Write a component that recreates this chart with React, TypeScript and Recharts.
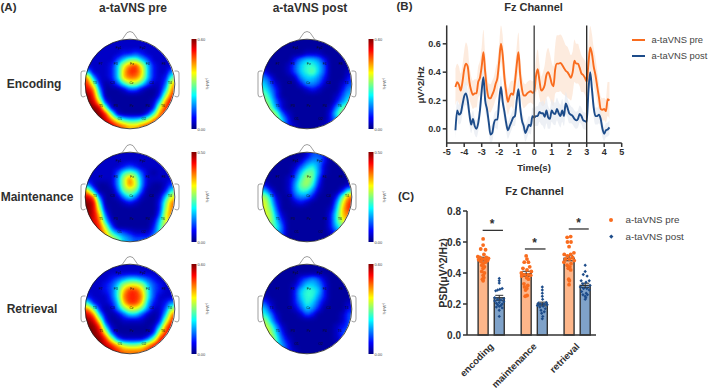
import React from 'react';
import { ComposedChart, ScatterChart, Scatter, Line, Area, Bar, ErrorBar, XAxis, YAxis, ReferenceLine } from 'recharts';

const FONT = '"Liberation Sans", Arial, sans-serif';
const INK = '#2f2f2f';
const PRE = '#f96c1e';
const POST = '#1d4c8a';

// ---------- Panel B, values ----------
const times = [-4.5,-4.4,-4.3,-4.2,-4.1,-4,-3.9,-3.8,-3.7,-3.6,-3.5,-3.4,-3.3,-3.2,-3.1,-3,-2.9,-2.8,-2.7,-2.6,-2.5,-2.4,-2.3,-2.2,-2.1,-2,-1.9,-1.8,-1.7,-1.6,-1.5,-1.4,-1.3,-1.2,-1.1,-1,-0.9,-0.8,-0.7,-0.6,-0.5,-0.4,-0.3,-0.2,-0.1,0,0.1,0.2,0.3,0.4,0.5,0.6,0.7,0.8,0.9,1,1.1,1.2,1.3,1.4,1.5,1.6,1.7,1.8,1.9,2,2.1,2.2,2.3,2.4,2.5,2.6,2.7,2.8,2.9,3,3.1,3.2,3.3,3.4,3.5,3.6,3.7,3.8,3.9,4,4.1,4.2,4.3];
const preSeries = [.295,.33,.31,.27,.33,.42,.46,.44,.33,.27,.24,.25,.25,.33,.36,.44,.54,.40,.28,.22,.215,.24,.27,.32,.36,.48,.60,.52,.36,.26,.19,.23,.25,.24,.33,.45,.54,.38,.28,.235,.235,.25,.26,.265,.255,.26,.37,.42,.34,.27,.28,.31,.38,.40,.37,.32,.30,.42,.46,.46,.465,.45,.43,.41,.40,.38,.36,.40,.48,.46,.46,.43,.39,.38,.36,.335,.46,.575,.53,.44,.38,.30,.22,.14,.135,.14,.125,.21,.20];
const postSeries = [-.01,.13,.10,.11,.17,.23,.25,.20,.10,.03,.07,.02,0,.04,.13,.27,.365,.20,.14,.05,-.04,-.03,.04,.065,.065,.20,.295,.19,.12,.04,-.01,.02,.05,.08,.09,.20,.28,.15,.06,.02,-.03,0,.03,.02,.09,.08,.09,.09,.12,.11,.11,.085,.13,.08,.07,.13,.11,.105,.14,.11,.09,.13,.09,.18,.15,.11,.10,.09,.07,.06,.07,.105,.09,.06,.055,.05,.27,.40,.28,.15,.09,.09,.10,.07,0,-.035,-.01,-.005,.01];
const preError = [.13,.13,.13,.12,.12,.13,.15,.14,.12,.1,.1,.1,.1,.11,.12,.14,.16,.14,.11,.1,.1,.1,.1,.11,.12,.12,.13,.14,.11,.1,.09,.09,.09,.1,.11,.13,.14,.12,.1,.09,.08,.08,.08,.08,.08,.09,.12,.14,.12,.1,.12,.14,.16,.17,.16,.15,.14,.17,.2,.2,.2,.2,.19,.18,.18,.17,.16,.15,.15,.14,.14,.13,.13,.12,.12,.12,.13,.15,.14,.13,.12,.11,.1,.09,.08,.08,.08,.12,.13];
const postError = [.06,.07,.07,.07,.07,.08,.08,.07,.07,.06,.06,.06,.06,.06,.07,.08,.09,.08,.07,.06,.06,.06,.06,.06,.07,.08,.08,.07,.07,.06,.06,.06,.06,.06,.07,.08,.08,.07,.06,.06,.06,.06,.06,.06,.06,.06,.07,.07,.07,.08,.09,.09,.09,.08,.07,.08,.08,.08,.08,.08,.08,.08,.07,.08,.07,.07,.06,.06,.06,.06,.06,.06,.06,.06,.06,.06,.08,.09,.08,.07,.06,.06,.06,.06,.06,.05,.05,.05,.05];
const timeTicks = [-5,-4,-3,-2,-1,0,1,2,3,4,5];
const lineTicks = [0,0.2,0.4,0.6];

// ---------- Panel C ----------
const categories = ['encoding','maintenance','retrieval'];
const categoryTicks = [1.5,4.17,6.83];
const barPositions = [1,2,3.67,4.67,6.33,7.33];
const barMeans = [.49,.24,.395,.20,.495,.32];
const barErrors = [.012,.016,.016,.012,.016,.014];
const psdTicks = [0,0.2,0.4,0.6,0.8];

const encPreVals = [.62,.58,.555,.55,.52,.505,.50,.50,.495,.49,.49,.485,.48,.475,.47,.46,.45,.44,.43,.41,.40,.385,.37,.36,.35];
const encPreJit = [0,0,-.15,.15,.05,-.33,-.2,.2,.33,-.05,.1,-.28,.28,-.14,.14,0,-.08,.08,0,-.08,.08,0,.04,-.04,0];
const encPostVals = [.365,.35,.335,.30,.295,.29,.285,.24,.235,.23,.225,.22,.215,.21,.205,.20,.195,.19,.185,.18,.175,.16,.12];
const encPostJit = [0,0,0,.18,.04,-.1,-.22,-.28,.28,-.1,.1,-.28,.28,0,-.18,.18,-.1,.1,0,-.18,.18,0,0];
const mainPreVals = [.51,.49,.47,.47,.44,.43,.42,.41,.40,.39,.39,.385,.38,.37,.36,.33,.32,.31,.30,.29,.255,.25];
const mainPreJit = [0,.05,-.12,.14,.22,-.2,.05,.32,-.3,-.12,.12,.28,-.28,.03,.14,-.14,.1,-.1,.04,-.04,.06,-.06];
const mainPostVals = [.31,.29,.27,.25,.23,.21,.205,.20,.20,.195,.19,.185,.18,.17,.16,.15,.14,.12,.105];
const mainPostJit = [0,0,0,0,.02,.25,-.25,.1,-.12,.3,-.3,.05,-.15,.18,-.08,.12,-.04,.03,0];
const retPreVals = [.635,.63,.60,.60,.57,.53,.52,.52,.51,.50,.49,.49,.48,.47,.46,.45,.44,.43,.42,.36,.35,.325];
const retPreJit = [.1,-.12,-.1,.12,0,.3,-.3,.1,-.1,.22,-.22,.02,.32,-.32,.12,-.12,.05,-.05,.1,-.02,.02,0];
const retPostVals = [.45,.41,.39,.38,.35,.35,.34,.33,.32,.31,.30,.30,.29,.28,.27,.26,.26,.25,.24,.23];
const retPostJit = [0,0,-.12,.12,-.25,.25,.05,-.15,.3,-.3,.1,-.1,.25,-.22,.06,-.14,.14,0,.04,0];

const sigLeft = [.97,3.59,6.31];
const sigRight = [2.23,4.87,7.55];
const sigHeights = [.675,.555,.684];

// ---------- Panel A: scalp maps, one hex digit per cell ----------
const encodingPre = ['222222222222222','222222222222222','222222334322222','222224688642222','222236acda63222','622236bddb63225','c52236bcca63238','d9312479974224b','ec511124421126c','fd711111111139d','fea3111111126ce','ffe821111113add','fffd82111137cdd','fffec976679cddd','ffffedcbbcddddd'];
const encodingPost = ['111111111111111','111111111111111','111111122211111','111113566531111','111124677641111','311124678641112','531112566531113','642111355421124','753111123211135','863111111111246','974211111111357','a85211111112588','aa8421111113799','aa9631111113577','aa9632111123455'];
const maintenancePre = ['222222222222222','222222222222222','222222343222222','222224787421222','2222259c9522222','5211259ca521124','b51114898411137','ec411257521126a','fe711123211138c','fe921111111139c','feb4111111114ac','eec6211111126ab','eed9411111137aa','eedb75432224799','eedca8654445788'];
const maintenancePost = ['111111124431111','111111245531111','111112467521111','111113688521111','111124798411111','311125897311112','631125775211137','96211455311138c','a731123211115ad','a841111111126bd','a952111111137bc','9963111111137ab','987411111113688','876411111112455','765311111111233'];
const retrievalPre = ['222222222222222','222222222222222','222234566543222','2223469aa964322','222347bddb74322','322247cddc74222','732236bddb63235','c831258aa852249','ec621246642126c','fea31122221139d','ffd6211111126ce','ffea41111113ade','fffd94222248dee','fffedb9889bdeee','ffffedccccdeeee'];
const retrievalPost = ['111111111111111','111111111111111','111111345421111','111112466531111','111113677631111','211113677531111','421113576421112','631112465311113','752111243111124','963111111111124','a85211111111234','b96311111111244','aa7421111111233','aa7531111111122','997532111111111'];

const mapCentersX = [129.5,306.7];
const mapCentersY = [84,197,309];
const rowNames = ['Encoding','Maintenance','Retrieval'];
const scaleMax = ['0.60','0.50','0.60'];
const mapGrids = [[encodingPre,encodingPost],[maintenancePre,maintenancePost],[retrievalPre,retrievalPost]];

const jetR = '0 0 0 0 0 0 0 .19 .44 .69 .94 1 1 1 .82 .5';
const jetG = '0 0 0 .06 .31 .56 .82 1 1 1 1 .75 .44 .125 0 0';
const jetB = '.52 .62 .78 .97 1 1 1 .82 .56 .31 .06 0 0 0 0 0';
const jetStops = ['#800000','#ff0000','#ff8000','#ffff00','#80ff80','#00ffff','#0080ff','#0000ff','#000080'];

const electrodeNames = ['Fp1','Fp2','F7','F3','Fz','F4','F8','T3','C3','Cz','C4','T4','T5','P3','Pz','P4','T6','O1','O2'];
const electrodeX = [-11,13,-29,-14,2,18,34,-35,-17,1.5,22,40,-29,-14,2,18,33,-10,14];
const electrodeY = [-36,-36,-20,-20,-20,-20,-20,-1,-1,-1,-1,-1,22,22,22,22,22,35,35];

const pointsOf = (xs: number, vals: number[], jit: number[]) => vals.map((v, i) => ({ x: xs + jit[i], y: v }));
const prePoints = [...pointsOf(1, encPreVals, encPreJit), ...pointsOf(3.67, mainPreVals, mainPreJit), ...pointsOf(6.33, retPreVals, retPreJit)];
const postPoints = [...pointsOf(2, encPostVals, encPostJit), ...pointsOf(4.67, mainPostVals, mainPostJit), ...pointsOf(7.33, retPostVals, retPostJit)];
const lineData = times.map((t, i) => ({
  t, pre: preSeries[i], post: postSeries[i],
  preBand: [preSeries[i] - preError[i], preSeries[i] + preError[i]],
  postBand: [postSeries[i] - postError[i], postSeries[i] + postError[i]],
}));
const barData = barPositions.map((x, i) => ({ x, y: barMeans[i], err: barErrors[i], fill: i % 2 ? '#7fa2c9' : '#fdb68a' }));

const Txt = ({ x, y, size, bold, rotate, color, children }: any) => (
  <div style={{ position: 'absolute', left: x, top: y, transform: `translate(-50%,-50%) rotate(${rotate || 0}deg)`, whiteSpace: 'nowrap', fontSize: size, fontWeight: bold ? 700 : 400, fontFamily: FONT, color: color || INK, lineHeight: 1 }}>{children}</div>
);

const TopoMap = ({ grid, cx, cy, id }: any) => {
  const cells: any[] = [];
  grid.forEach((row: string, r: number) => row.split('').forEach((ch, c) => {
    const g = Math.round(parseInt(ch, 16) * 17);
    cells.push({ x: c + 0.5, y: r + 0.5, gray: `rgb(${g},${g},${g})` });
  }));
  return (
    <>
      <div style={{ position: 'absolute', left: cx - 45, top: cy - 45, width: 90, height: 90, filter: 'url(#jetBlur)', clipPath: 'circle(44.6px at 45px 45px)' }}>
        <ScatterChart width={90} height={90} margin={{ top: 0, right: 0, bottom: 0, left: 0 }}>
          <XAxis hide type="number" dataKey="x" domain={[0, 15]} />
          <YAxis hide type="number" dataKey="y" domain={[0, 15]} reversed />
          <Scatter data={cells} isAnimationActive={false} shape={(p: any) => <rect x={p.cx - 3.3} y={p.cy - 3.3} width={6.6} height={6.6} fill={p.payload.gray} />} />
        </ScatterChart>
      </div>
      <div style={{ position: 'absolute', left: cx - 60, top: cy - 60 }}>
        <ScatterChart width={150} height={120} margin={{ top: 0, right: 0, bottom: 0, left: 0 }}>
          <XAxis hide type="number" dataKey="x" domain={[-60, 90]} />
          <YAxis hide type="number" dataKey="y" domain={[-60, 60]} reversed />
          <defs>
            <linearGradient id={`bar${id}`} x1="0" y1="0" x2="0" y2="1">
              {jetStops.map((c, i) => <stop key={i} offset={i / (jetStops.length - 1)} stopColor={c} />)}
            </linearGradient>
          </defs>
          <circle cx={60} cy={60} r={44.8} fill="none" stroke="#222" strokeWidth={0.8} />
          <path d="M52 15.8 L57 8.6 Q60 6.4 63 8.6 L68 15.8" fill="none" stroke="#777" strokeWidth={0.7} />
          <path d="M15.5 47 L13 47 Q11 47 11 49 L11 70 Q11 73 13 73 L15.5 72" fill="none" stroke="#777" strokeWidth={0.7} />
          <path d="M104.5 47 L107 47 Q109 47 109 49 L109 70 Q109 73 107 73 L104.5 72" fill="none" stroke="#777" strokeWidth={0.7} />
          <rect x={121.5} y={15} width={5} height={90} fill={`url(#bar${id})`} />
          <text x={127.5} y={16.5} fontSize={4} fill="#444" fontFamily={FONT}>{scaleMax[Math.floor(id / 2)]}</text>
          <text x={127.5} y={106.5} fontSize={4} fill="#444" fontFamily={FONT}>0.00</text>
          <text x={135.5} y={60} fontSize={3.6} fill="#444" fontFamily={FONT} textAnchor="middle" transform="rotate(90 135.5 60)">μV²/Hz</text>
          <Scatter data={electrodeNames.map((n, i) => ({ x: electrodeX[i], y: electrodeY[i], n }))} isAnimationActive={false}
            shape={(p: any) => <text x={p.cx} y={p.cy + 1} fontSize={3.4} fill="#111" textAnchor="middle" fontFamily={FONT}>{p.payload.n}</text>} />
        </ScatterChart>
      </div>
    </>
  );
};

const LineLegend = ({ y, color, label }: any) => (
  <>
    <div style={{ position: 'absolute', left: 632, top: y - 1, width: 13, height: 2, background: color }} />
    <div style={{ position: 'absolute', left: 651.5, top: y - 5, fontSize: 9.4, lineHeight: '10px', color: '#444', fontFamily: FONT, whiteSpace: 'nowrap' }}>{label}</div>
  </>
);

const CategoryTick = ({ x, y, payload }: any) => {
  const i = categoryTicks.indexOf(payload.value);
  return <text x={x + 3} y={y + 4} transform={`rotate(-45 ${x + 3} ${y + 4})`} textAnchor="end" fontSize={9.6} fontWeight={700} fill={INK} fontFamily={FONT}>{categories[i]}</text>;
};

const BarShape = (p: any) => {
  const mid = p.x + (p.width || 0) / 2;
  return <rect x={mid - 5} y={p.y} width={10} height={p.height} fill={p.payload.fill} stroke="#333" strokeWidth={1.4} />;
};

const axisTick = { fontSize: 9, fontWeight: 700, fill: INK, fontFamily: FONT };
const axisLine = { stroke: '#333', strokeWidth: 1.5 };
const tickLine = { stroke: '#333', strokeWidth: 1.5 };

export default function App() {
  return (
    <div style={{ position: 'absolute', left: 0, top: 0, width: 709, height: 390, background: '#fff', overflow: 'hidden', fontFamily: FONT }}>
      <svg width={0} height={0} style={{ position: 'absolute' }}>
        <filter id="jetBlur" x="-20%" y="-20%" width="140%" height="140%" colorInterpolationFilters="sRGB">
          <feGaussianBlur stdDeviation={2.6} />
          <feComponentTransfer>
            <feFuncR type="table" tableValues={jetR} />
            <feFuncG type="table" tableValues={jetG} />
            <feFuncB type="table" tableValues={jetB} />
            <feFuncA type="linear" slope={100} />
          </feComponentTransfer>
        </filter>
      </svg>

      <Txt x={8.5} y={8} size={11.5} bold>(A)</Txt>
      <Txt x={133} y={8} size={12} bold>a-taVNS pre</Txt>
      <Txt x={310} y={8} size={12} bold>a-taVNS post</Txt>
      {rowNames.map((n, r) => <Txt key={n} x={r === 1 ? 37 : r === 0 ? 34 : 32} y={mapCentersY[r]} size={12} bold>{n}</Txt>)}
      {mapGrids.map((pair, r) => pair.map((grid, c) => (
        <TopoMap key={`${r}-${c}`} grid={grid} cx={mapCentersX[c]} cy={mapCentersY[r]} id={r * 2 + c} />
      )))}

      <Txt x={404.5} y={7} size={11.5} bold>(B)</Txt>
      <Txt x={533.5} y={6.5} size={11} bold>Fz Channel</Txt>
      <div style={{ position: 'absolute', left: 395, top: 15 }}>
        <ComposedChart width={235} height={160} data={lineData} margin={{ top: 10.4, right: 8.3, bottom: 2, left: 11.7 }}>
          <XAxis type="number" dataKey="t" domain={[-5, 5]} ticks={timeTicks} interval={0} height={30} tick={axisTick} axisLine={axisLine} tickLine={tickLine} tickSize={4} />
          <YAxis type="number" domain={[-0.1, 0.7]} ticks={lineTicks} width={40} tick={axisTick} axisLine={axisLine} tickLine={tickLine} tickSize={4} tickFormatter={(v: number) => v.toFixed(1)} />
          <Area dataKey="preBand" type="monotone" stroke="none" fill="#fde6d6" fillOpacity={0.8} isAnimationActive={false} dot={false} activeDot={false} />
          <Area dataKey="postBand" type="monotone" stroke="none" fill="#e6eaf1" fillOpacity={0.7} isAnimationActive={false} dot={false} activeDot={false} />
          <Line dataKey="pre" type="monotone" stroke={PRE} strokeWidth={1.9} dot={false} isAnimationActive={false} />
          <Line dataKey="post" type="monotone" stroke={POST} strokeWidth={1.9} dot={false} isAnimationActive={false} />
          <ReferenceLine x={0} stroke="#555" strokeWidth={1.5} />
          <ReferenceLine x={3} stroke="#222" strokeWidth={1.3} />
        </ComposedChart>
      </div>
      <Txt x={534} y={168} size={9.5} bold>Time(s)</Txt>
      <Txt x={420.5} y={85} size={9.5} bold rotate={-90}>μV^2/Hz</Txt>
      <LineLegend y={39.5} color={PRE} label="a-taVNS pre" />
      <LineLegend y={55.7} color={POST} label="a-taVNS post" />

      <Txt x={406} y={197} size={11.5} bold>(C)</Txt>
      <Txt x={534.5} y={191} size={11} bold>Fz Channel</Txt>
      <div style={{ position: 'absolute', left: 400, top: 200 }}>
        <ComposedChart width={205} height={190} data={barData} margin={{ top: 11, right: 9, bottom: 5, left: 32 }}>
          <XAxis type="number" dataKey="x" domain={[0, 8]} ticks={categoryTicks} interval={0} height={50} tick={<CategoryTick />} axisLine={axisLine} tickLine={false} />
          <YAxis type="number" dataKey="y" domain={[0, 0.8]} ticks={psdTicks} width={35} tick={{ ...axisTick, fontSize: 10 }} axisLine={axisLine} tickLine={tickLine} tickSize={4} tickFormatter={(v: number) => v.toFixed(1)} />
          <Bar dataKey="y" isAnimationActive={false} shape={BarShape}>
            <ErrorBar dataKey="err" width={4} stroke="#333" strokeWidth={1} isAnimationActive={false} />
          </Bar>
          <Scatter data={prePoints} fill={PRE} isAnimationActive={false} shape={(p: any) => <circle cx={p.cx} cy={p.cy} r={1.9} fill={PRE} />} />
          <Scatter data={postPoints} fill={POST} isAnimationActive={false} shape={(p: any) => <rect x={p.cx - 1.2} y={p.cy - 1.2} width={2.4} height={2.4} fill={POST} transform={`rotate(45 ${p.cx} ${p.cy})`} />} />
          {sigHeights.map((h, i) => (
            <ReferenceLine key={i} stroke="#333" strokeWidth={1.3} segment={[{ x: sigLeft[i], y: h }, { x: sigRight[i], y: h }]} />
          ))}
        </ComposedChart>
      </div>
      <Txt x={492} y={224} size={12} bold>*</Txt>
      <Txt x={534.5} y={243} size={12} bold>*</Txt>
      <Txt x={578.5} y={223} size={12} bold>*</Txt>
      <Txt x={443} y={273} size={10.5} bold rotate={-90}>PSD(μV^2/Hz)</Txt>
      <div style={{ position: 'absolute', left: 609, top: 217.7, width: 4, height: 4, borderRadius: '50%', background: PRE }} />
      <div style={{ position: 'absolute', left: 609.7, top: 235.4, width: 2.6, height: 2.6, transform: 'rotate(45deg)', background: POST }} />
      <div style={{ position: 'absolute', left: 625.5, top: 214.7, fontSize: 9.8, lineHeight: '10px', color: '#444', fontFamily: FONT, whiteSpace: 'nowrap' }}>a-taVNS pre</div>
      <div style={{ position: 'absolute', left: 625.5, top: 231.7, fontSize: 9.8, lineHeight: '10px', color: '#444', fontFamily: FONT, whiteSpace: 'nowrap' }}>a-taVNS post</div>
    </div>
  );
}
